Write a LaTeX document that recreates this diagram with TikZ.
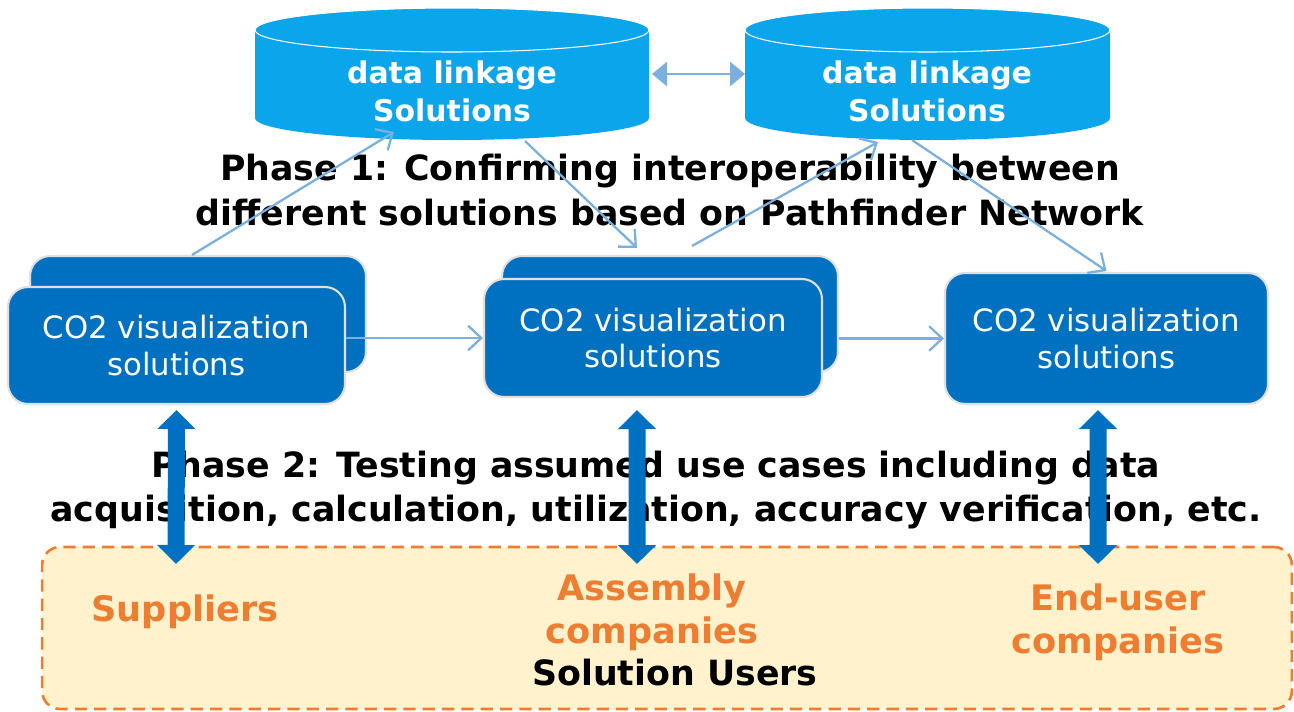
\documentclass[tikz,border=0pt]{standalone}
\usepackage{fontspec}
\setmainfont{DejaVu Sans}
\usetikzlibrary{arrows.meta,calc,positioning}
\definecolor{dbblue}{HTML}{0AA5EB}
\definecolor{boxblue}{HTML}{0070C0}
\definecolor{linkblue}{HTML}{7BAFDE}
\definecolor{userorange}{HTML}{ED7D31}
\definecolor{userfill}{HTML}{FFF2CC}
\tikzset{
  co2box/.style={rounded corners=0.4cm, fill=boxblue, draw=black!12, line width=1.2pt, text=white, align=center, inner sep=0pt, font=\fontsize{17.5}{21}\selectfont},
  dbtext/.style={text=white, align=center, font=\bfseries\fontsize{17}{21.5}\selectfont},
  phase/.style={align=center, font=\bfseries\fontsize{19.8}{25.5}\selectfont},
  who/.style={text=userorange, align=center, font=\bfseries\fontsize{20}{24.5}\selectfont},
  flow/.style={draw=linkblue, line width=1.3pt, -{Straight Barb[length=7.5pt,width=14pt]}},
  dblink/.style={draw=linkblue, line width=1.7pt, {Triangle[length=0.3cm,width=0.48cm]}-{Triangle[length=0.3cm,width=0.48cm]}},
  bigarrow/.style={draw=boxblue, line width=0.34cm, {Triangle[length=0.38cm,width=0.74cm]}-{Triangle[length=0.38cm,width=0.74cm]}},
  userbox/.style={rounded corners=0.36cm, fill=userfill, draw=userorange, line width=1.5pt, dash pattern=on 7pt off 4pt}
}
\begin{document}
\begin{tikzpicture}[x=0.02cm,y=-0.02cm]
\useasboundingbox (0,0) rectangle (1294,711);
\foreach \cx/\r in {452/197,927.5/182.5}{
  \fill[dbblue] (\cx-\r,30) -- (\cx-\r,118) arc[start angle=180,end angle=360,x radius=\r*0.02cm,y radius=0.44cm]
    -- (\cx+\r,30) arc[start angle=0,end angle=180,x radius=\r*0.02cm,y radius=0.44cm] -- cycle;
  \draw[white,line width=0.6pt] (\cx,30) ellipse[x radius=\r*0.02cm,y radius=0.44cm];
}
\node[dbtext] (db1) at (452,91) {data linkage\\Solutions};
\node[dbtext] (db2) at (927,91) {data linkage\\Solutions};
\node[co2box, minimum width=6.72cm, minimum height=2.32cm] (co1b) at (198,314) {};
\node[co2box, minimum width=6.74cm, minimum height=2.34cm] (co1) at (176.5,345.5) {CO2 visualization\\solutions};
\node[co2box, minimum width=6.72cm, minimum height=2.32cm] (co2b) at (670,314) {};
\node[co2box, minimum width=6.76cm, minimum height=2.36cm] (co2) at (653,338) {CO2 visualization\\solutions};
\node[co2box, minimum width=6.46cm, minimum height=2.62cm] (co3) at (1106.5,338.5) {CO2 visualization\\solutions};
\node[userbox, minimum width=25cm, minimum height=3.24cm] (users) at (667,628) {};
\node[phase] (ph1) at (670,190) {Phase 1: Confirming interoperability between\\different solutions based on Pathfinder Network};
\node[phase] (ph2) at (656,490) {Phase 2: Testing assumed use cases including data\\acquisition, calculation, utilization, accuracy verification, etc.};
\node[who] (sup) at (185,612) {Suppliers};
\node[who] (asm) at (652,612) {Assembly\\companies};
\node[who] (end) at (1118,622) {End-user\\companies};
\node[phase] (su) at (675,673) {Solution Users};
\draw[dblink] ($(db1)+(200,-17)$) -- ($(db2)+(-182,-17)$);
\draw[flow] (co1.east |- co2.west) -- (co2.west);
\draw[flow] (co2b.east |- co3.west) -- (co3.west);
\draw[flow] ([xshift=-0.12cm]co1b.north) -- ($(db1)+(-58,41)$);
\draw[flow] ($(db1)+(73,50)$) -- ([xshift=-0.66cm,yshift=0.14cm]co2b.north);
\draw[flow] ([xshift=0.44cm,yshift=0.18cm]co2b.north) -- ($(db2)+(-49,51)$);
\draw[flow] ($(db2)+(-15,49)$) -- ([yshift=0.02cm]co3.north);
\coordinate (u1) at (176,564);
\coordinate (u2) at (637,564);
\coordinate (u3) at (1098,564);
\draw[bigarrow] ([yshift=-0.1cm]co1.south) -- (u1);
\draw[bigarrow] ([xshift=-0.32cm,yshift=-0.24cm]co2.south) -- (u2);
\draw[bigarrow] ([xshift=-0.17cm,yshift=-0.1cm]co3.south) -- (u3);
\end{tikzpicture}
\end{document}
